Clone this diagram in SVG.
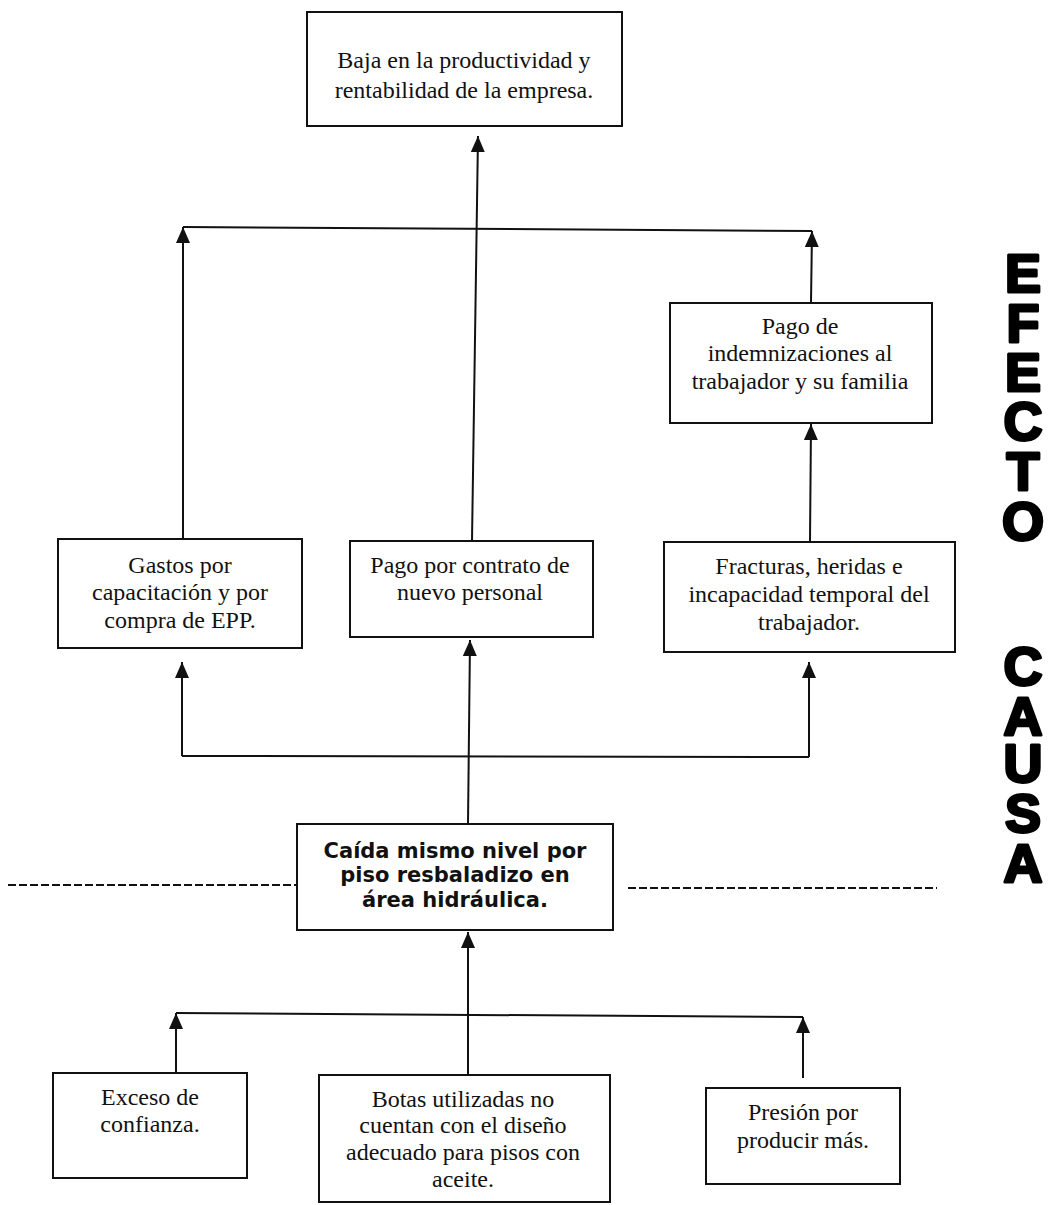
<svg xmlns="http://www.w3.org/2000/svg" width="1054" height="1205" viewBox="0 0 1054 1205">
  <style>
    .box { fill: #fff; stroke: #111; stroke-width: 2; }
    .txt { font-family: "Liberation Serif", "Times New Roman", serif; font-size: 24px; fill: #111; text-anchor: middle; }
    .bold { font-family: "DejaVu Sans", Verdana, sans-serif; font-weight: bold; font-size: 21px; fill: #111; text-anchor: middle; }
    .wire { fill: none; stroke: #111; stroke-width: 2; }
    .dash { fill: none; stroke: #111; stroke-width: 2; stroke-dasharray: 8 3; }
    .side { font-family: "Liberation Sans", Arial, sans-serif; font-weight: bold; font-size: 54px; fill: #000; stroke: #000; stroke-width: 3; stroke-linejoin: round; text-anchor: middle; }
  </style>
  <defs>
    <marker id="head" viewBox="0 0 16 14" refX="16" refY="7" markerWidth="16" markerHeight="14" markerUnits="userSpaceOnUse" orient="auto">
      <path d="M0,0 L16,7 L0,14 z" fill="#111"/>
    </marker>
  </defs>

  <rect width="1054" height="1205" fill="#fff"/>

  <!-- connectors -->
  <g id="connectors">
    <!-- effects up to the top box -->
    <line class="wire" x1="472" y1="541" x2="478" y2="136" marker-end="url(#head)"/>
    <line class="wire" x1="183" y1="227" x2="812" y2="231"/>
    <line class="wire" x1="183" y1="539" x2="183" y2="227" marker-end="url(#head)"/>
    <line class="wire" x1="811" y1="303" x2="812" y2="231" marker-end="url(#head)"/>
    <line class="wire" x1="810" y1="542" x2="811" y2="424" marker-end="url(#head)"/>
    <!-- central problem up to the effects -->
    <line class="wire" x1="468" y1="824" x2="470" y2="640" marker-end="url(#head)"/>
    <line class="wire" x1="182" y1="756" x2="809" y2="757"/>
    <line class="wire" x1="182" y1="756" x2="182" y2="662" marker-end="url(#head)"/>
    <line class="wire" x1="809" y1="757" x2="809" y2="662" marker-end="url(#head)"/>
    <!-- causes up to the central problem -->
    <line class="wire" x1="468" y1="1075" x2="468" y2="932" marker-end="url(#head)"/>
    <line class="wire" x1="176" y1="1013" x2="803" y2="1017"/>
    <line class="wire" x1="176" y1="1073" x2="176" y2="1013" marker-end="url(#head)"/>
    <line class="wire" x1="803" y1="1078" x2="803" y2="1017" marker-end="url(#head)"/>
    <!-- separator between effects and causes -->
    <line class="dash" x1="8" y1="885" x2="297" y2="885"/>
    <line class="dash" x1="628" y1="888" x2="937" y2="888"/>
  </g>

  <g id="baja-productividad">
    <rect class="box" x="307" y="12" width="315" height="114"/>
    <text class="txt" font-size="25" x="464" y="68">Baja en la productividad y</text>
    <text class="txt" font-size="25" x="464" y="98">rentabilidad de la empresa.</text>
  </g>

  <g id="pago-indemnizaciones">
    <rect class="box" x="670" y="303" width="262" height="120"/>
    <text class="txt" x="800" y="334">Pago de</text>
    <text class="txt" x="800" y="361">indemnizaciones al</text>
    <text class="txt" x="800" y="389">trabajador y su familia</text>
  </g>

  <g id="gastos-capacitacion">
    <rect class="box" x="58" y="539" width="244" height="109"/>
    <text class="txt" x="180" y="573">Gastos por</text>
    <text class="txt" x="180" y="600">capacitación y por</text>
    <text class="txt" x="180" y="628">compra de EPP.</text>
  </g>

  <g id="pago-contrato">
    <rect class="box" x="350" y="541" width="243" height="96"/>
    <text class="txt" x="470" y="573">Pago por contrato de</text>
    <text class="txt" x="470" y="600">nuevo personal</text>
  </g>

  <g id="fracturas">
    <rect class="box" x="664" y="542" width="291" height="110"/>
    <text class="txt" x="809" y="574">Fracturas, heridas e</text>
    <text class="txt" x="809" y="602">incapacidad temporal del</text>
    <text class="txt" x="809" y="630">trabajador.</text>
  </g>

  <g id="caida-mismo-nivel">
    <rect class="box" x="297" y="824" width="316" height="106"/>
    <text class="bold" x="455" y="858">Caída mismo nivel por</text>
    <text class="bold" x="455" y="882">piso resbaladizo en</text>
    <text class="bold" x="455" y="907">área hidráulica.</text>
  </g>

  <g id="exceso-confianza">
    <rect class="box" x="53" y="1073" width="194" height="105"/>
    <text class="txt" x="150" y="1105">Exceso de</text>
    <text class="txt" x="150" y="1132">confianza.</text>
  </g>

  <g id="botas">
    <rect class="box" x="319" y="1075" width="291" height="127"/>
    <text class="txt" x="463" y="1107">Botas utilizadas no</text>
    <text class="txt" x="463" y="1133">cuentan con el diseño</text>
    <text class="txt" x="463" y="1160">adecuado para pisos con</text>
    <text class="txt" x="463" y="1187">aceite.</text>
  </g>

  <g id="presion">
    <rect class="box" x="706" y="1088" width="194" height="96"/>
    <text class="txt" x="803" y="1120">Presión por</text>
    <text class="txt" x="803" y="1148">producir más.</text>
  </g>

  <!-- side labels, written top to bottom one letter per row -->
  <text id="efecto" class="side"><tspan x="1023" y="292">E</tspan><tspan x="1023" y="342">F</tspan><tspan x="1023" y="391">E</tspan><tspan x="1023" y="440">C</tspan><tspan x="1023" y="490">T</tspan><tspan x="1023" y="540">O</tspan></text>
  <text id="causa" class="side"><tspan x="1023" y="685">C</tspan><tspan x="1023" y="735">A</tspan><tspan x="1023" y="782">U</tspan><tspan x="1023" y="832">S</tspan><tspan x="1023" y="882">A</tspan></text>
</svg>
